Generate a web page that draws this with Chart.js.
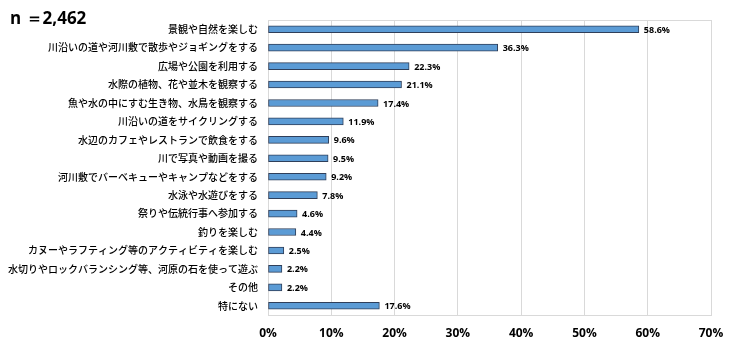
<!DOCTYPE html>
<html><head><meta charset="utf-8">
<script src="https://cdn.jsdelivr.net/npm/chart.js@4/dist/chart.umd.min.js"></script>
<style>html,body{margin:0;padding:0;background:#fff}#wrap{width:740px;height:348px;position:relative}</style>
</head><body><div id="wrap"><canvas id="c" width="740" height="348"></canvas></div>
<script>
const categories = [
  "景観や自然を楽しむ",
  "川沿いの道や河川敷で散歩やジョギングをする",
  "広場や公園を利用する",
  "水際の植物、花や並木を観察する",
  "魚や水の中にすむ生き物、水鳥を観察する",
  "川沿いの道をサイクリングする",
  "水辺のカフェやレストランで飲食をする",
  "川で写真や動画を撮る",
  "河川敷でバーベキューやキャンプなどをする",
  "水泳や水遊びをする",
  "祭りや伝統行事へ参加する",
  "釣りを楽しむ",
  "カヌーやラフティング等のアクティビティを楽しむ",
  "水切りやロックバランシング等、河原の石を使って遊ぶ",
  "その他",
  "特にない"
];
const values = [58.6, 36.3, 22.3, 21.1, 17.4, 11.9, 9.6, 9.5, 9.2, 7.8, 4.6, 4.4, 2.5, 2.2, 2.2, 17.6];
const xTicks = [0, 10, 20, 30, 40, 50, 60, 70];
const sampleLabel = "n ＝2,462";

const JP = '"Noto Sans CJK JP", sans-serif';
const LAT = '"Open Sans", "Liberation Sans", sans-serif';

const labelPlugin = {
  id: 'labels',
  afterDatasetsDraw(chart) {
    const ctx = chart.ctx;
    const meta = chart.getDatasetMeta(0);
    ctx.save();
    ctx.font = 'bold 9px ' + LAT;
    ctx.fillStyle = '#000';
    ctx.textAlign = 'left';
    ctx.textBaseline = 'middle';
    meta.data.forEach((bar, i) => {
      ctx.fillText(values[i].toFixed(1) + '%', bar.x + 5, bar.y + 1);
    });
    ctx.font = 'bold 17px ' + LAT;
    ctx.textBaseline = 'alphabetic';
    ctx.fillText(sampleLabel, 10, 24);
    const a = chart.chartArea;
    ctx.strokeStyle = '#d9d9d9';
    ctx.lineWidth = 1;
    ctx.beginPath();
    ctx.moveTo(a.left, a.top + 0.5);
    ctx.lineTo(a.right + 0.5, a.top + 0.5);
    ctx.lineTo(a.right + 0.5, a.bottom);
    ctx.stroke();
    ctx.restore();
  }
};

new Chart(document.getElementById('c'), {
  type: 'bar',
  data: {
    labels: categories,
    datasets: [{
      data: values,
      backgroundColor: '#5b9bd5',
      borderColor: '#2f3f5a',
      borderWidth: 1,
      borderSkipped: false,
      barThickness: 7
    }]
  },
  options: {
    indexAxis: 'y',
    responsive: false,
    animation: false,
    layout: { padding: { top: 20, right: 29, bottom: 0, left: 0 } },
    plugins: { legend: { display: false }, tooltip: { enabled: false } },
    scales: {
      x: {
        min: 0, max: 70,
        afterBuildTicks(axis) { axis.ticks = xTicks.map(v => ({ value: v })); },
        afterFit(axis) { axis.height = 33; },
        grid: { color: '#d9d9d9', drawTicks: false },
        border: { display: true, color: '#d9d9d9' },
        ticks: {
          padding: 11,
          color: '#000',
          font: { family: LAT, size: 12, weight: 'bold' },
          callback: v => v + '%'
        }
      },
      y: {
        afterFit(axis) { axis.width = 268; },
        grid: { display: false, drawTicks: false },
        border: { display: false },
        ticks: {
          padding: 10,
          color: '#000',
          autoSkip: false,
          font: { family: JP, size: 10, weight: 500 }
        }
      }
    }
  },
  plugins: [labelPlugin]
});
</script></body></html>
